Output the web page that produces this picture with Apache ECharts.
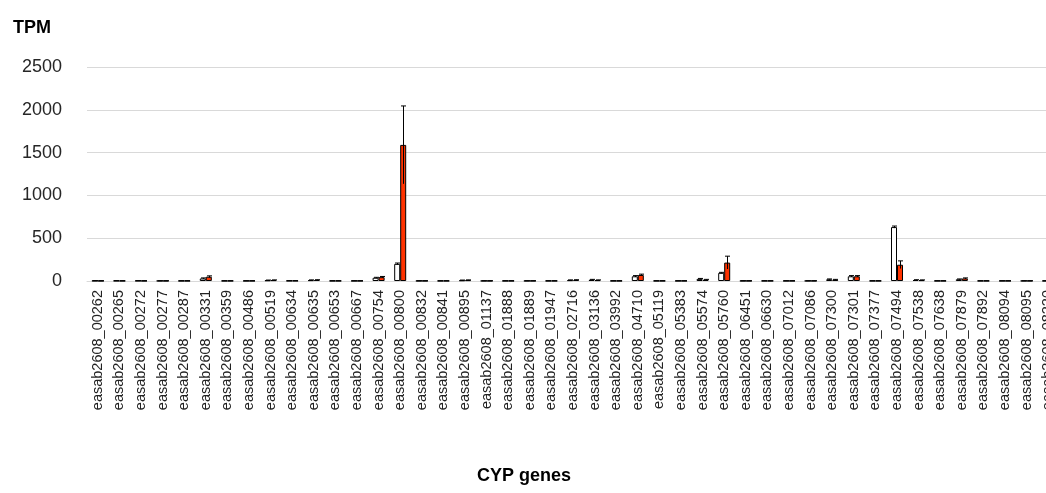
<!DOCTYPE html>
<html>
<head>
<meta charset="utf-8">
<script src="https://cdn.jsdelivr.net/npm/echarts@6/dist/echarts.min.js"></script>
<style>
html,body{margin:0;padding:0;background:#fff;overflow:hidden;width:1046px;height:493px;}
#c{width:1070px;height:493px;}
</style>
</head>
<body>
<div id="c"></div>
<script>
const categories = ["easab2608_00262","easab2608_00265","easab2608_00272","easab2608_00277","easab2608_00287","easab2608_00331","easab2608_00359","easab2608_00486","easab2608_00519","easab2608_00634","easab2608_00635","easab2608_00653","easab2608_00667","easab2608_00754","easab2608_00800","easab2608_00832","easab2608_00841","easab2608_00895","easab2608_01137","easab2608_01888","easab2608_01889","easab2608_01947","easab2608_02716","easab2608_03136","easab2608_03992","easab2608_04710","easab2608_05119","easab2608_05383","easab2608_05574","easab2608_05760","easab2608_06451","easab2608_06630","easab2608_07012","easab2608_07086","easab2608_07300","easab2608_07301","easab2608_07377","easab2608_07494","easab2608_07538","easab2608_07638","easab2608_07879","easab2608_07892","easab2608_08094","easab2608_08095","easab2608_08220"];
const controlTPM = [3,3,3,2,2,30,2,2,8,3,10,2,2,38,200,2,2,8,2,2,2,2,10,15,2,55,2,2,25,95,2,2,2,2,20,55,2,630,12,2,20,2,2,2,2];
const controlErr = [1,1,1,1,1,6,1,1,3,1,3,1,1,5,10,1,1,3,1,1,1,1,3,4,1,8,1,1,5,6,1,1,1,1,4,8,1,12,3,1,4,1,1,1,1];
const treatedTPM = [2,2,2,2,2,50,2,2,10,3,12,2,2,45,1590,2,2,10,2,2,2,2,12,10,2,70,2,2,15,215,2,2,2,2,15,55,2,190,10,2,30,2,2,2,2];
const treatedErr = [1,1,1,1,1,10,1,1,3,1,3,1,1,8,455,1,1,3,1,1,1,1,3,3,1,10,1,1,4,75,1,1,1,1,4,8,1,45,3,1,6,1,1,1,1];
const yTicks = [0,500,1000,1500,2000,2500];

const chart = echarts.init(document.getElementById('c'), null, {renderer:'canvas'});
const FONT = 'Liberation Sans, Arial, sans-serif';
const BW = 6;

function errRender(offset){
  return function(params, api){
    const x = api.value(0), v = api.value(1), e = api.value(2);
    const top = api.coord([x, v + e]);
    const bot = api.coord([x, Math.max(0, v - e)]);
    const cx = Math.round(top[0] + offset) + 0.5;
    return {type:'group', children:[
      {type:'line', shape:{x1:cx, y1:top[1], x2:cx, y2:bot[1]}, style:{stroke:'#000', lineWidth:1}},
      {type:'line', shape:{x1:cx-2.5, y1:top[1], x2:cx+2.5, y2:top[1]}, style:{stroke:'#000', lineWidth:1}}
    ]};
  };
}

chart.setOption({
  animation:false,
  backgroundColor:'#fff',
  grid:{left:87, right:11, top:67, bottom:212, containLabel:false},
  graphic:[
    {type:'text', left:13, top:19, style:{text:'TPM', font:'bold 18px '+FONT, fill:'#000'}},
    {type:'text', left:523-46, top:467, style:{text:'CYP genes', font:'bold 18px '+FONT, fill:'#000'}}
  ],
  xAxis:{
    type:'category', data:categories,
    axisLine:{lineStyle:{color:'#d9d9d9', width:1}},
    axisTick:{show:false},
    axisLabel:{interval:0, rotate:90, fontSize:14.5, fontFamily:FONT, color:'#222', margin:9}
  },
  yAxis:{
    type:'value', min:yTicks[0], max:yTicks[yTicks.length-1], interval:500,
    axisLine:{show:false}, axisTick:{show:false},
    axisLabel:{fontSize:18, fontFamily:FONT, color:'#262626', margin:25, formatter:(v)=>String(v)},
    splitLine:{lineStyle:{color:'#d9d9d9', width:1}}
  },
  series:[
    {type:'bar', name:'control', data:controlTPM, barWidth:BW, barGap:'0%',
     itemStyle:{color:'#fff', borderColor:'#000', borderWidth:1}},
    {type:'bar', name:'treated', data:treatedTPM, barWidth:BW, barGap:'0%',
     itemStyle:{color:'#ff3300', borderColor:'#000', borderWidth:1}},
    {type:'custom', name:'controlErr', renderItem:errRender(-BW/2), z:5,
     data:controlTPM.map((v,i)=>[i, v, controlErr[i]])},
    {type:'custom', name:'treatedErr', renderItem:errRender(BW/2), z:5,
     data:treatedTPM.map((v,i)=>[i, v, treatedErr[i]])}
  ]
});
</script>
</body>
</html>
